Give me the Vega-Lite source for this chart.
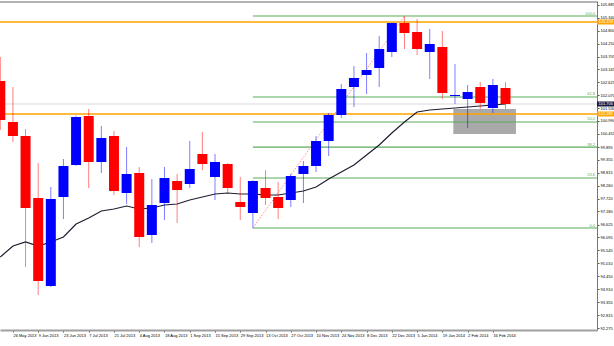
{
  "$schema": "https://vega.github.io/schema/vega-lite/v6.json",
  "width": 597,
  "height": 329,
  "autosize": "none",
  "padding": {"left": 0, "top": 1, "right": 17, "bottom": 16},
  "background": "white",
  "config": {
    "view": {"stroke": null},
    "font": "Liberation Sans",
    "axis": {"labelOverlap": false, "labelSeparation": 0, "labelFlush": false, "labelBound": false, "grid": false, "title": null, "labelFontSize": 4, "labelColor": "#000", "tickSize": 2, "tickColor": "#555", "labelPadding": 1},
    "scale": {"continuousPadding": 0}
  },
  "datasets": {
    "candles": [
      {"d":"2013-05-19","o":102.674,"h":103.684,"l":100.611,"c":101.032},
      {"d":"2013-05-26","o":100.948,"h":102.421,"l":100.106,"c":100.358},
      {"d":"2013-06-02","o":100.358,"h":100.653,"l":94.843,"c":97.327},
      {"d":"2013-06-09","o":97.748,"h":99.222,"l":93.664,"c":94.254},
      {"d":"2013-06-16","o":94.043,"h":98.211,"l":94.001,"c":97.706},
      {"d":"2013-06-23","o":97.79,"h":99.39,"l":96.864,"c":99.095},
      {"d":"2013-06-30","o":99.137,"h":101.22,"l":99.1,"c":101.158},
      {"d":"2013-07-07","o":101.2,"h":101.495,"l":98.169,"c":99.264},
      {"d":"2013-07-14","o":99.264,"h":100.779,"l":98.801,"c":100.274},
      {"d":"2013-07-21","o":100.358,"h":100.569,"l":97.874,"c":98.043},
      {"d":"2013-07-28","o":97.959,"h":99.895,"l":97.496,"c":98.759},
      {"d":"2013-08-04","o":98.801,"h":99.053,"l":95.685,"c":96.106},
      {"d":"2013-08-11","o":96.19,"h":98.548,"l":95.854,"c":97.453},
      {"d":"2013-08-18","o":97.538,"h":99.053,"l":96.822,"c":98.59},
      {"d":"2013-08-25","o":98.464,"h":98.759,"l":96.696,"c":98.085},
      {"d":"2013-09-01","o":98.338,"h":100.148,"l":98.169,"c":98.969},
      {"d":"2013-09-08","o":99.601,"h":100.527,"l":98.927,"c":99.18},
      {"d":"2013-09-15","o":98.632,"h":99.601,"l":97.664,"c":99.264},
      {"d":"2013-09-22","o":99.18,"h":99.222,"l":97.959,"c":98.169},
      {"d":"2013-09-29","o":97.58,"h":98.632,"l":96.822,"c":97.369},
      {"d":"2013-10-06","o":97.117,"h":98.5,"l":96.485,"c":98.464},
      {"d":"2013-10-13","o":98.169,"h":98.927,"l":97.453,"c":97.748},
      {"d":"2013-10-20","o":97.79,"h":98.422,"l":96.864,"c":97.327},
      {"d":"2013-10-27","o":97.664,"h":98.759,"l":97.369,"c":98.674},
      {"d":"2013-11-03","o":98.759,"h":99.306,"l":97.538,"c":99.095},
      {"d":"2013-11-10","o":99.095,"h":100.358,"l":98.843,"c":100.148},
      {"d":"2013-11-17","o":100.148,"h":101.327,"l":99.516,"c":101.242},
      {"d":"2013-11-24","o":101.242,"h":102.548,"l":101.116,"c":102.337},
      {"d":"2013-12-01","o":102.421,"h":103.305,"l":101.579,"c":102.8},
      {"d":"2013-12-08","o":102.926,"h":103.853,"l":102.127,"c":103.137},
      {"d":"2013-12-15","o":103.221,"h":104.568,"l":102.421,"c":104.021},
      {"d":"2013-12-22","o":103.895,"h":105.13,"l":103.684,"c":105.116},
      {"d":"2013-12-29","o":105.116,"h":105.41,"l":104.021,"c":104.695},
      {"d":"2014-01-05","o":104.737,"h":105.284,"l":103.768,"c":104.021},
      {"d":"2014-01-12","o":103.895,"h":104.863,"l":102.758,"c":104.232},
      {"d":"2014-01-19","o":104.105,"h":104.779,"l":101.916,"c":102.169},
      {"d":"2014-01-26","o":102.042,"h":103.39,"l":101.706,"c":102.084},
      {"d":"2014-02-02","o":101.916,"h":102.505,"l":100.695,"c":102.211},
      {"d":"2014-02-09","o":102.421,"h":102.632,"l":101.495,"c":101.748},
      {"d":"2014-02-16","o":101.537,"h":102.758,"l":101.327,"c":102.505},
      {"d":"2014-02-23","o":102.379,"h":102.632,"l":101.495,"c":101.706}
    ],
    "ma": [
      {"d":"2013-05-19","v":95.264},{"d":"2013-05-26","v":95.727},{"d":"2013-06-02","v":95.896},
      {"d":"2013-06-09","v":95.727},{"d":"2013-06-16","v":95.896},{"d":"2013-06-23","v":96.106},
      {"d":"2013-06-30","v":96.654},{"d":"2013-07-07","v":96.906},{"d":"2013-07-14","v":97.201},
      {"d":"2013-07-21","v":97.285},{"d":"2013-07-28","v":97.411},{"d":"2013-08-04","v":97.285},
      {"d":"2013-08-11","v":97.327},{"d":"2013-08-18","v":97.453},{"d":"2013-08-25","v":97.496},
      {"d":"2013-09-01","v":97.664},{"d":"2013-09-08","v":97.79},{"d":"2013-09-15","v":97.917},
      {"d":"2013-09-22","v":97.959},{"d":"2013-09-29","v":97.917},{"d":"2013-10-06","v":97.917},
      {"d":"2013-10-13","v":97.874},{"d":"2013-10-20","v":97.874},{"d":"2013-10-27","v":97.959},
      {"d":"2013-11-03","v":98.043},{"d":"2013-11-10","v":98.211},{"d":"2013-11-17","v":98.548},
      {"d":"2013-11-24","v":98.843},{"d":"2013-12-01","v":99.137},{"d":"2013-12-08","v":99.558},
      {"d":"2013-12-15","v":99.979},{"d":"2013-12-22","v":100.485},{"d":"2013-12-29","v":100.948},
      {"d":"2014-01-05","v":101.369},{"d":"2014-01-12","v":101.453},{"d":"2014-01-19","v":101.495},
      {"d":"2014-01-26","v":101.537},{"d":"2014-02-02","v":101.579},{"d":"2014-02-09","v":101.621},
      {"d":"2014-02-16","v":101.663},{"d":"2014-02-23","v":101.706}
    ],
    "fib": [
      {"lab":"100.0","v":105.41,"s":"2013-10-06","e":"2014-04-14T17:00:00Z"},
      {"lab":"61.8","v":102.001,"s":"2013-10-06","e":"2014-04-14T17:00:00Z"},
      {"lab":"50.0","v":100.948,"s":"2013-10-06","e":"2014-04-14T17:00:00Z"},
      {"lab":"38.2","v":99.894,"s":"2013-10-06","e":"2014-04-14T17:00:00Z"},
      {"lab":"23.6","v":98.591,"s":"2013-10-06","e":"2014-04-14T17:00:00Z"},
      {"lab":"0.0","v":96.485,"s":"2013-10-06","e":"2014-04-14T17:00:00Z"}
    ],
    "trend": [
      {"d":"2013-10-06","v":96.485},
      {"d":"2013-12-29","v":105.41}
    ],
    "zone": [
      {"s":"2014-01-25T02:00:00Z","e":"2014-02-28T19:00:00Z","top":101.495,"bot":100.443}
    ],
    "levels": [
      {"v":105.158,"k":"orange","lab":"105.158"},
      {"v":101.285,"k":"orange","lab":"101.285"},
      {"v":101.706,"k":"price","lab":"101.706"}
    ]
  },
  "layer": [
    {
      "data": {"name": "zone"},
      "mark": {"type": "rect", "color": "#a9a9a9"},
      "encoding": {
        "x": {"field": "s", "type": "temporal", "title": null,
          "scale": {"type": "utc", "padding": 0, "domain": [{"year":2013,"month":5,"date":18,"hours":20,"utc":true},{"year":2014,"month":4,"date":14,"hours":17,"utc":true}]},
          "axis": {
            "values": [
              {"year":2013,"month":5,"date":26,"utc":true},{"year":2013,"month":6,"date":9,"utc":true},
              {"year":2013,"month":6,"date":23,"utc":true},{"year":2013,"month":7,"date":7,"utc":true},
              {"year":2013,"month":7,"date":21,"utc":true},{"year":2013,"month":8,"date":4,"utc":true},
              {"year":2013,"month":8,"date":18,"utc":true},{"year":2013,"month":9,"date":1,"utc":true},
              {"year":2013,"month":9,"date":15,"utc":true},{"year":2013,"month":9,"date":29,"utc":true},
              {"year":2013,"month":10,"date":13,"utc":true},{"year":2013,"month":10,"date":27,"utc":true},
              {"year":2013,"month":11,"date":10,"utc":true},{"year":2013,"month":11,"date":24,"utc":true},
              {"year":2013,"month":12,"date":8,"utc":true},{"year":2013,"month":12,"date":22,"utc":true},
              {"year":2014,"month":1,"date":5,"utc":true},{"year":2014,"month":1,"date":19,"utc":true},
              {"year":2014,"month":2,"date":2,"utc":true},{"year":2014,"month":2,"date":16,"utc":true}
            ],
            "tickCount": 40,
            "labelExpr": "utcFormat(datum.value, '%-d %b %Y')",
            "labelAlign": "left", "domainColor": "#a0a0a0", "domainWidth": 2, "labelOverlap": false
          }
        },
        "x2": {"field": "e"},
        "y": {"field": "top", "type": "quantitative", "title": null,
          "scale": {"domain": [92.191, 106.042], "nice": false, "zero": false},
          "axis": {
            "orient": "right",
            "values": [92.275,92.815,93.355,93.91,94.45,95.01,95.545,96.095,96.625,97.18,97.72,98.26,98.815,99.355,99.895,100.455,100.99,101.53,102.07,102.625,103.165,103.705,104.25,104.8,105.34,105.885],
            "tickCount": 40,
            "format": ".3f", "domainColor": "#777", "labelOverlap": false
          }
        },
        "y2": {"field": "bot"}
      }
    },
    {
      "data": {"values": [{}]},
      "mark": {"type": "rule", "color": "#b4b4b4", "strokeWidth": 2},
      "encoding": {"y": {"datum": 106.0, "type": "quantitative", "title": null}}
    },
    {
      "data": {"name": "levels"},
      "transform": [{"filter": "datum.k == 'price'"}],
      "mark": {"type": "rule", "color": "#d8d8d8", "strokeWidth": 1},
      "encoding": {"y": {"field": "v", "type": "quantitative", "title": null}}
    },
    {
      "data": {"name": "levels"},
      "transform": [{"filter": "datum.k == 'orange'"}],
      "mark": {"type": "rule", "color": "#ffa500", "strokeWidth": 1.5},
      "encoding": {"y": {"field": "v", "type": "quantitative", "title": null}}
    },
    {
      "data": {"name": "fib"},
      "mark": {"type": "rule", "color": "#5bab5b", "strokeWidth": 1.2},
      "encoding": {
        "x": {"field": "s", "type": "temporal", "title": null},
        "x2": {"field": "e"},
        "y": {"field": "v", "type": "quantitative", "title": null}
      }
    },
    {
      "data": {"name": "fib"},
      "mark": {"type": "text", "color": "#5bab5b", "fontSize": 4, "align": "right", "baseline": "bottom", "dx": -2, "dy": -0.5},
      "encoding": {
        "x": {"field": "e", "type": "temporal", "title": null},
        "y": {"field": "v", "type": "quantitative", "title": null},
        "text": {"field": "lab"}
      }
    },
    {
      "data": {"name": "trend"},
      "mark": {"type": "line", "color": "#ff8c8c", "strokeWidth": 1, "strokeDash": [1.5, 1.5]},
      "encoding": {
        "x": {"field": "d", "type": "temporal", "title": null},
        "y": {"field": "v", "type": "quantitative", "title": null}
      }
    },
    {
      "data": {"name": "ma"},
      "mark": {"type": "line", "color": "#1e1e32", "strokeWidth": 1.2},
      "encoding": {
        "x": {"field": "d", "type": "temporal", "title": null},
        "y": {"field": "v", "type": "quantitative", "title": null}
      }
    },
    {
      "data": {"name": "candles"},
      "mark": {"type": "rule", "strokeWidth": 1, "opacity": 0.5},
      "encoding": {
        "x": {"field": "d", "type": "temporal", "title": null},
        "y": {"field": "l", "type": "quantitative", "title": null},
        "y2": {"field": "h"},
        "color": {"condition": {"test": "datum.c >= datum.o", "value": "#0000ff"}, "value": "#ff0000"}
      }
    },
    {
      "data": {"name": "candles"},
      "mark": {"type": "bar", "width": 10},
      "encoding": {
        "x": {"field": "d", "type": "temporal", "title": null},
        "y": {"field": "o", "type": "quantitative", "title": null},
        "y2": {"field": "c"},
        "color": {"condition": {"test": "datum.c >= datum.o", "value": "#0000ff"}, "value": "#ff0000"}
      }
    },
    {
      "data": {"name": "levels"},
      "mark": {"type": "point", "shape": "M0,-1H6.8V1H0Z", "size": 25, "filled": true, "opacity": 1},
      "encoding": {
        "x": {"datum": {"year":2014,"month":4,"date":14,"hours":17,"utc":true}, "type": "temporal", "title": null},
        "y": {"field": "v", "type": "quantitative", "title": null},
        "color": {"condition": {"test": "datum.k == 'price'", "value": "#1a1a40"}, "value": "#ffa500"}
      }
    },
    {
      "data": {"name": "levels"},
      "mark": {"type": "text", "color": "#ffffff", "fontSize": 4, "align": "left", "baseline": "middle", "dx": 1.5},
      "encoding": {
        "x": {"datum": {"year":2014,"month":4,"date":14,"hours":17,"utc":true}, "type": "temporal", "title": null},
        "y": {"field": "v", "type": "quantitative", "title": null},
        "text": {"field": "lab"}
      }
    }
  ]
}
